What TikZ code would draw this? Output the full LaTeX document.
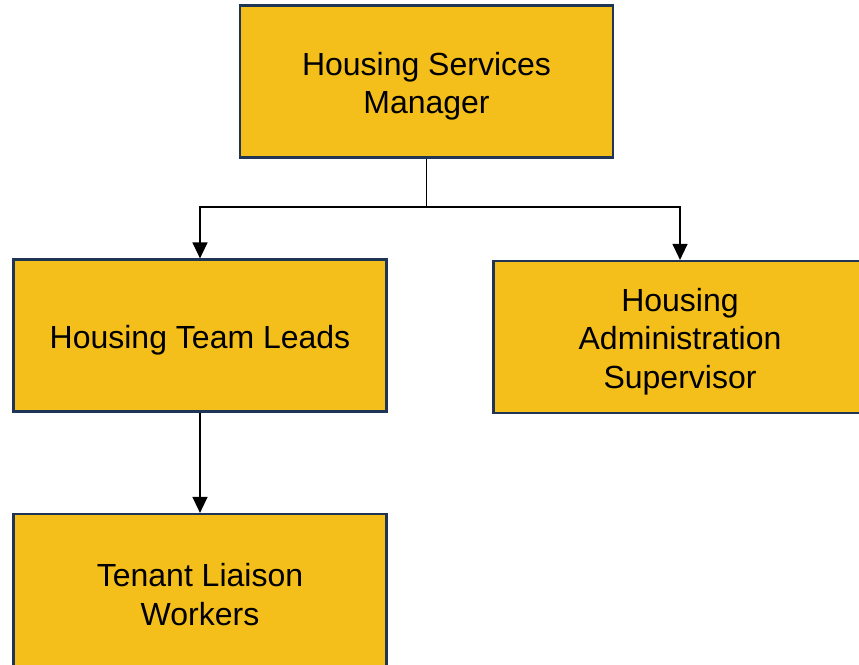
\documentclass[tikz,border=0pt]{standalone}
\usepackage{fontspec}
\setmainfont{Liberation Sans}
\usetikzlibrary{arrows.meta}
\definecolor{boxfill}{HTML}{F4BF1A}
\definecolor{boxline}{HTML}{1F3556}
\tikzset{
  orgbox/.style={draw=boxline, line width=2.2pt, fill=boxfill, minimum width=373pt,
    minimum height=152pt, inner sep=0pt},
  boxtext/.style={inner sep=0pt, align=center, font=\fontsize{32}{38.5}\selectfont},
  link/.style={line width=1.3pt, -{Triangle[width=15pt,length=16pt]}}
}
\begin{document}
\begin{tikzpicture}[x=1pt,y=-1pt]
\useasboundingbox (0,0) rectangle (859,664);
\clip (0,0) rectangle (859,664);
% boxes
\node[orgbox] (mgr) at (426.5,81.5) {};
\node[orgbox] (leads) at (200,335.5) {};
\node[orgbox] (admin) at (680,337) {};
\node[orgbox] (liaison) at (200,590) {};
% labels, set slightly below each box centre
\node[boxtext] (mgrtext) at ([yshift=-4.5pt]mgr.center) {Housing Services\\Manager};
\node[boxtext] (leadstext) at ([yshift=-4.5pt]leads.center) {Housing Team Leads};
\node[boxtext] (admintext) at ([yshift=-4.5pt]admin.center) {Housing\\Administration\\Supervisor};
\node[boxtext] (liaisontext) at ([yshift=-4.5pt]liaison.center) {Tenant Liaison\\Workers};
% reporting lines
\coordinate (split) at (426.5,207);
\draw[link] (mgr.south) -- (split) -| (leads.north);
\draw[link] (split) -| (admin.north);
\draw[link] (leads.south) -- (liaison.north);
\end{tikzpicture}
\end{document}
